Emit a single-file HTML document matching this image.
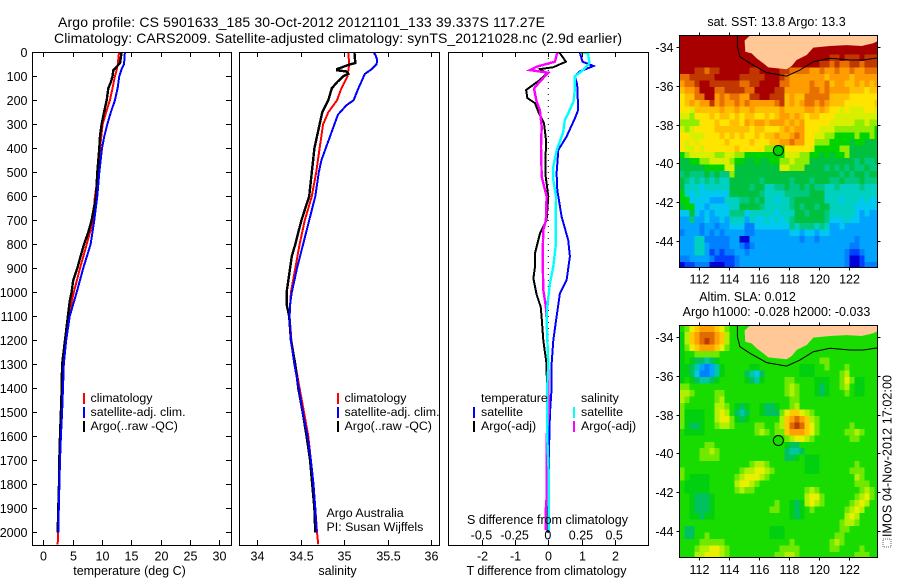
<!DOCTYPE html>
<html>
<head>
<meta charset="utf-8">
<title>Argo profile</title>
<style>
html,body{margin:0;padding:0;background:#fff;}
svg{display:block;}
text{font-family:"Liberation Sans",sans-serif;font-size:12.4px;fill:#000;}
.frame{fill:none;stroke:#000;stroke-width:1;shape-rendering:crispEdges;}
.ttl{font-size:14px;}
.lbl{font-size:12.5px;}
</style>
</head>
<body>
<svg id="chart" xmlns="http://www.w3.org/2000/svg" width="900" height="580" viewBox="0 0 900 580">
<rect x="0" y="0" width="900" height="580" fill="#fff"/>
<defs>
<clipPath id="clipT"><rect x="32" y="52" width="200" height="494"/></clipPath>
<clipPath id="clipS"><rect x="239" y="52" width="201" height="494"/></clipPath>
<clipPath id="clipD"><rect x="448" y="52" width="201" height="494"/></clipPath>
<clipPath id="clipM1"><rect x="679.5" y="35.5" width="198" height="232"/></clipPath>
<clipPath id="clipM2"><rect x="679.5" y="325.5" width="198" height="232"/></clipPath>
</defs>
<text class="ttl" x="58" y="27" textLength="487" lengthAdjust="spacing">Argo profile: CS 5901633_185 30-Oct-2012 20121101_133 39.337S 117.27E</text>
<text class="ttl" x="54" y="43" textLength="568" lengthAdjust="spacing">Climatology: CARS2009. Satellite-adjusted climatology: synTS_20121028.nc (2.9d earlier)</text>

<g id="mapLayer1" clip-path="url(#clipM1)"></g>
<g id="mapLayer2" clip-path="url(#clipM2)"></g>
<g id="lineT" clip-path="url(#clipT)"></g>
<g id="lineS" clip-path="url(#clipS)"></g>
<g id="lineD" clip-path="url(#clipD)"></g>
<g id="axes"></g>

<rect class="frame" x="32.5" y="52.5" width="199" height="493"/>
<rect class="frame" x="239.5" y="52.5" width="200" height="493"/>
<rect class="frame" x="448.5" y="52.5" width="200" height="493"/>
<rect class="frame" x="679.5" y="35.5" width="198" height="232"/>
<rect class="frame" x="679.5" y="325.5" width="198" height="232"/>

<text class="lbl" x="129.5" y="575" text-anchor="middle">temperature (deg C)</text>
<text class="lbl" x="337.5" y="575" text-anchor="middle">salinity</text>
<text class="lbl" x="546.5" y="575" text-anchor="middle">T difference from climatology</text>
<text class="lbl" x="547.5" y="524" text-anchor="middle">S difference from climatology</text>

<g>
<rect x="83" y="393" width="2" height="11" fill="#f00"/>
<rect x="83" y="407" width="2" height="11" fill="#00f"/>
<rect x="83" y="421" width="2" height="11" fill="#000"/>
<text x="90.5" y="402">climatology</text>
<text x="90.5" y="416">satellite-adj. clim.</text>
<text x="90.5" y="430">Argo(..raw -QC)</text>
</g>
<g>
<rect x="337" y="393" width="2" height="11" fill="#f00"/>
<rect x="337" y="407" width="2" height="11" fill="#00f"/>
<rect x="337" y="421" width="2" height="11" fill="#000"/>
<text x="344.5" y="402">climatology</text>
<text x="344.5" y="416">satellite-adj. clim.</text>
<text x="344.5" y="430">Argo(..raw -QC)</text>
<text x="326.5" y="517">Argo Australia</text>
<text x="326.5" y="531">PI: Susan Wijffels</text>
</g>
<g>
<text x="481" y="402">temperature</text>
<text x="481" y="416">satellite</text>
<text x="481" y="430">Argo(-adj)</text>
<rect x="473" y="407" width="2" height="11" fill="#00f"/>
<rect x="473" y="421" width="2" height="11" fill="#000"/>
<text x="581" y="402">salinity</text>
<text x="581" y="416">satellite</text>
<text x="581" y="430">Argo(-adj)</text>
<rect x="573" y="407" width="2" height="11" fill="#0ff"/>
<rect x="573" y="421" width="2" height="11" fill="#f0f"/>
</g>

<text class="lbl" x="776.5" y="26" text-anchor="middle">sat. SST: 13.8 Argo: 13.3</text>
<text class="lbl" x="747.5" y="301" text-anchor="middle">Altim. SLA: 0.012</text>
<text class="lbl" x="776.5" y="316" text-anchor="middle">Argo h1000: -0.028 h2000: -0.033</text>
<rect x="883" y="539" width="8" height="8" fill="none" stroke="#666" stroke-width="1" stroke-dasharray="1 1"/>
<text class="lbl" transform="translate(891.5,537) rotate(-90)" textLength="162" lengthAdjust="spacing">IMOS 04-Nov-2012 17:02:00</text>
</svg>

<script>
// ---------- profile data (depth in dbar, temperature in deg C, salinity in psu) ----------
const depthTicks = [0,100,200,300,400,500,600,700,800,900,1000,1100,1200,1300,1400,1500,1600,1700,1800,1900,2000];
const tempTicks = [0,5,10,15,20,25,30];
const salTicks = [34,34.5,35,35.5,36];
const salTickLabels = ["34","34.5","35","35.5","36"];
const tDiffTicks = [-2,-1,0,1,2];
const sDiffTicks = [-0.5,-0.25,0,0.25,0.5];
const sDiffTickLabels = ["-0.5","-0.25","0","0.25","0.5"];
const lonTicks = [112,114,116,118,120,122];
const latTicks = [-34,-36,-38,-40,-42,-44];

const tempClimDepth = [0,50,75,100,150,200,250,300,400,500,600,700,800,900,1000,1100,1200,1300,1400,1500,1600,1700,1800,1900,2000,2050];
const tempClim = [12.9,12.7,12.5,12.2,11.8,11.36,10.7,10.1,9.66,9.4,8.8,8.5,7.4,6.25,5.2,4.3,3.8,3.35,3.15,3,2.88,2.75,2.68,2.58,2.5,2.45];
const tempArgoDepth = [0,45,60,75,100,125,150,200,250,300,350,400,500,600,700,750,800,850,900,950,1000,1030,1100,1200,1300,1400,1500,1600,1700,1800,1900,2000];
const tempArgo = [13.35,13.07,12.5,11.93,11.8,11.5,11.08,10.8,10.34,9.94,9.66,9.55,9.2,9,8.24,7.67,6.93,6.36,5.8,5.1,4.83,4.55,4.2,3.7,3.2,3.13,3,2.85,2.73,2.68,2.56,2.45];
const tempSatDepth = [0,50,70,100,150,200,250,300,350,400,500,600,700,800,900,1000,1100,1200,1300,1400,1500,1600,1700,1800,1900,2000];
const tempSat = [13.9,13.75,13.35,12.95,12.67,12.2,11.5,10.9,10.4,10,9.55,9.2,8.7,8.07,6.8,5.7,4.5,3.9,3.5,3.35,3.2,3,2.85,2.75,2.65,2.55];

const salClimDepth = [0,50,100,150,200,250,300,400,500,600,700,800,900,1000,1100,1200,1300,1400,1500,1600,1700,1800,1900,2000,2050];
const salClim = [35.05,35.06,35.04,34.97,34.92,34.82,34.76,34.72,34.68,34.63,34.55,34.49,34.44,34.39,34.375,34.395,34.44,34.49,34.54,34.59,34.62,34.65,34.67,34.69,34.705];
const salArgoDepth = [0,45,50,70,75,80,90,100,125,150,200,250,300,350,400,500,600,700,800,850,900,1000,1050,1100,1200,1300,1400,1500,1600,1700,1800,1900,2000];
const salArgo = [35.12,35.13,35.07,34.92,34.92,35.03,35.05,34.99,34.92,34.86,34.82,34.75,34.72,34.69,34.66,34.63,34.6,34.51,34.44,34.4,34.38,34.34,34.34,34.37,34.39,34.44,34.475,34.525,34.57,34.61,34.635,34.66,34.67];
const salSatDepth = [0,10,30,50,70,90,150,200,220,260,300,350,400,450,500,600,700,800,900,1000,1050,1100,1200,1300,1400,1500,1600,1700,1800,1900,2000];
const salSat = [35.34,35.36,35.38,35.375,35.32,35.24,35.165,35.11,35.03,34.93,34.89,34.84,34.79,34.74,34.71,34.67,34.6,34.53,34.46,34.4,34.38,34.375,34.39,34.43,34.48,34.525,34.58,34.62,34.65,34.67,34.685];

const tDiffArgoDepth = [0,39,62,70,88,115,157,191,212,247,296,365,504,601,700,754,837,893,942,1011,1060,1108,1200,1300,1500,2000];
const tDiffArgo = [0.33,0.53,0.15,-0.25,-0.05,-0.25,-0.67,-0.63,-0.4,-0.3,-0.13,-0.07,-0.09,0,-0.05,-0.25,-0.4,-0.4,-0.45,-0.35,-0.23,-0.2,-0.15,-0.05,-0.03,-0.03];
const tDiffSatDepth = [0,39,57,80,100,136,240,275,351,407,504,574,685,782,851,949,1004,1101,1200,1300,1400,1500,1600,1700,2000];
const tDiffSat = [0.95,1.03,1.36,0.95,0.8,0.87,0.9,0.8,0.55,0.3,0.25,0.27,0.4,0.6,0.65,0.55,0.35,0.25,0.15,0.1,0.1,0.05,0.03,0.02,0.01];
const sDiffSatDepth = [0,5,46,76,100,157,205,254,282,337,407,476,532,601,810,893,962,1060,1115,1300,1400,1600,1750,1990];
const sDiffSat = [0.24,0.3,0.31,0.26,0.2,0.2,0.19,0.15,0.125,0.11,0.063,0.038,0.038,0.058,0.055,0.038,0.013,-0.008,-0.013,0,-0.008,-0.008,0.003,0.003];
const sDiffArgoDepth = [0,39,60,74,85,122,150,205,240,310,393,518,601,700,740,851,990,1060,1115,1300,1500,1600,1850,1900,1990];
const sDiffArgo = [0.068,0.05,-0.088,-0.138,0,-0.063,-0.108,-0.088,-0.063,-0.05,-0.055,-0.05,-0.013,-0.018,-0.038,-0.043,-0.038,-0.018,-0.013,0,0.003,-0.012,-0.012,-0.018,-0.018];

// ---------- map data ----------
const coastLon = [115.38,115.02,115.07,115.49,115.82,116.27,116.6,117.82,118.16,118.49,119.16,119.6,120.71,121.82,122.82,123.6,123.95,123.95];
const coastLat = [-33.4,-33.67,-34.24,-34.33,-34.58,-34.84,-35.05,-35.15,-34.98,-34.67,-34.41,-34.03,-33.95,-33.9,-33.95,-33.81,-33.67,-33.3];
const isobathLon = [114.54,114.54,114.71,115.38,116.49,117.82,118.71,119.6,120.71,122.05,122.93,123.95];
const isobathLat = [-33.3,-33.98,-34.5,-34.84,-35.32,-35.5,-35.19,-34.76,-34.58,-34.67,-34.67,-34.55];
const argoLon = 117.27;
const argoLat = -39.337;

const sstColors = ["#000090","#0000d8","#0040ff","#0080ff","#00a4ff","#00c8f0","#00d0c0","#00c880","#00c040","#00d400","#90ec00","#d8f000","#ffe400","#ffc000","#ff9c00","#e87000","#c03800","#a80000"];
const slaColors = ["#000090","#0000d8","#0040ff","#0080ff","#00a4ff","#00c8f0","#00c8a0","#00c060","#00d010","#18dc00","#70e800","#b0f000","#e8f000","#ffc800","#ffa000","#e06c00","#bc3c00","#a00000"];

// SST colour-level grid, 36 rows of 40 cells
const sstGrid = [
[17,17,17,17,17,17,17,17,17,17,17,17,17,17,17,17,17,17,17,17,17,17,17,17,17,17,17,17,17,17,17,17,17,17,17,17,17,17,17,17],
[17,17,17,17,17,17,17,17,17,17,17,17,17,17,17,17,17,17,17,17,17,17,17,17,17,17,17,17,17,17,17,17,17,17,17,17,17,17,17,17],
[17,17,17,17,17,17,17,17,17,17,17,17,17,17,17,17,17,17,17,17,17,17,17,17,17,17,17,17,17,17,17,17,17,17,17,17,17,17,17,17],
[17,17,17,17,17,17,17,17,17,17,17,17,17,17,17,17,17,17,17,17,17,17,17,17,17,17,17,17,17,17,16,16,17,16,16,16,17,16,16,16],
[17,17,17,17,17,17,17,17,17,17,17,17,17,17,17,17,17,17,17,17,17,17,17,17,17,17,17,17,16,16,15,16,15,15,16,16,15,16,16,16],
[17,17,17,16,16,15,16,16,17,17,17,17,17,17,16,16,17,17,17,17,16,16,15,15,15,15,14,14,15,14,14,15,14,14,15,14,14,15,15,15],
[15,15,16,16,16,16,16,17,17,17,17,17,16,16,16,16,16,17,17,17,16,15,14,14,14,14,14,14,14,13,14,14,14,14,13,14,14,14,14,14],
[14,15,15,16,17,17,16,16,16,16,16,16,15,15,16,16,17,17,17,17,15,15,14,14,14,14,15,14,14,15,13,14,14,13,13,14,13,14,13,14],
[13,14,14,15,17,17,17,15,15,16,16,16,16,15,15,17,17,17,17,16,16,14,14,14,14,14,15,15,14,15,14,14,14,14,13,13,13,12,13,13],
[12,13,13,15,15,17,17,14,15,14,15,15,14,14,16,16,17,17,16,16,16,13,14,13,13,15,15,15,15,15,13,13,13,13,12,12,12,12,12,12],
[12,13,14,13,14,14,16,14,15,14,14,15,14,15,14,14,14,14,14,15,16,13,14,13,14,15,15,14,15,14,13,13,13,12,12,12,12,12,12,13],
[12,12,11,13,13,13,13,13,14,13,13,14,13,13,14,13,13,13,13,13,14,13,13,13,13,14,14,13,14,13,12,12,11,12,11,11,11,12,12,11],
[11,11,10,12,12,12,13,12,13,13,12,13,12,13,13,12,12,13,12,13,14,14,13,14,13,12,13,13,12,12,12,11,11,11,11,11,11,11,11,11],
[10,10,10,10,12,12,12,13,12,12,13,13,12,14,13,14,14,13,14,14,14,13,14,13,14,12,12,12,12,12,11,11,11,11,11,10,10,11,10,10],
[11,10,11,12,12,12,12,13,13,13,13,13,13,13,12,13,13,12,12,12,13,14,13,14,14,12,12,12,11,11,11,10,10,10,10,10,10,10,10,9],
[12,12,11,11,11,12,12,12,13,12,13,12,13,12,12,13,12,13,13,14,13,13,14,15,14,12,12,11,11,10,10,9,9,9,9,10,9,9,10,9],
[12,11,12,11,12,12,12,12,12,13,12,12,12,12,13,12,12,12,13,13,14,14,15,14,14,12,12,10,10,10,9,9,9,9,8,9,9,8,8,8],
[12,11,11,12,11,12,12,12,12,12,12,13,12,12,12,12,12,10,10,9,9,12,12,12,12,12,11,9,9,9,9,9,10,10,8,8,8,8,8,8],
[9,10,11,11,11,11,11,10,10,11,11,10,10,9,9,9,9,9,9,9,9,11,11,11,10,10,9,9,8,9,8,9,9,10,8,8,8,8,8,8],
[8,8,9,9,10,10,11,11,11,11,10,9,9,8,8,9,8,8,9,9,10,10,11,10,10,10,8,8,8,8,8,8,8,8,8,7,8,7,7,8],
[8,8,8,8,8,9,9,9,9,11,11,8,8,8,8,8,8,8,8,8,11,11,10,10,10,8,8,8,8,7,8,7,8,7,8,7,7,8,7,7],
[7,8,7,7,7,8,7,8,7,7,10,8,8,8,8,8,8,8,8,8,8,8,8,8,8,8,8,8,8,8,8,8,7,8,7,8,8,7,8,8],
[8,7,6,7,6,7,6,7,6,6,8,8,8,8,8,8,7,8,8,8,8,8,7,8,8,8,7,8,8,8,7,7,8,7,7,7,8,7,7,7],
[8,6,6,6,5,6,6,6,6,6,8,8,8,8,7,8,8,6,6,7,7,8,7,7,8,7,8,7,7,6,6,7,6,6,6,6,7,6,6,6],
[9,6,5,6,5,5,5,5,5,5,8,8,8,8,8,8,7,6,6,6,6,7,7,7,7,7,8,8,8,6,6,6,6,6,6,6,6,6,6,6],
[9,9,5,5,5,5,4,4,4,6,6,6,7,7,8,7,8,6,6,5,6,6,7,8,8,8,8,8,8,6,6,6,5,6,6,6,5,6,5,5],
[8,9,9,5,5,4,5,5,5,5,6,6,8,8,8,8,7,6,6,6,6,6,7,8,7,8,8,7,8,8,6,6,6,6,6,5,5,5,5,5],
[5,5,8,5,4,5,4,5,5,5,7,7,7,5,6,6,6,6,6,5,6,6,6,8,8,7,8,8,8,7,6,6,6,6,6,5,4,5,4,4],
[4,4,7,4,4,5,4,4,5,4,6,6,6,4,6,5,5,6,5,6,5,6,7,8,8,8,8,8,8,7,5,5,5,6,5,5,4,4,4,4],
[4,4,4,4,3,4,4,3,4,4,5,5,5,3,3,5,5,5,5,5,5,5,7,6,7,7,7,6,7,6,4,4,5,4,4,4,4,4,4,4],
[3,4,4,4,3,4,3,4,3,4,4,4,4,3,3,4,4,4,4,4,4,4,5,5,4,5,5,4,5,5,4,4,4,4,4,4,4,4,4,4],
[4,4,4,6,6,3,3,3,3,3,4,4,1,1,4,4,4,4,4,4,4,4,4,4,3,4,4,3,4,4,4,4,4,4,4,3,4,4,4,4],
[4,4,4,6,6,4,3,3,3,3,4,4,3,2,3,4,4,4,4,4,4,4,4,4,4,4,4,4,4,4,4,4,4,4,3,3,4,4,4,4],
[4,4,4,6,6,4,2,3,2,3,3,4,4,3,4,4,4,4,4,4,4,4,4,4,4,4,4,4,4,4,4,4,4,3,2,2,3,4,4,4],
[3,3,4,4,4,4,3,2,2,2,2,3,4,4,4,4,4,4,4,4,4,4,4,4,4,4,4,4,4,4,4,4,4,3,1,1,2,4,4,4],
[1,2,2,3,3,3,1,1,1,2,2,3,4,4,4,4,4,4,4,4,4,4,4,4,4,4,4,4,4,4,4,4,4,3,1,1,2,3,3,3]
];

// Sea-level-anomaly colour-level grid, 36 rows of 40 cells
const slaGrid = [
[9,10,12,13,14,14,14,13,12,10,9,9,9,9,9,9,9,9,9,9,9,9,9,9,9,9,9,9,9,9,9,9,9,9,9,9,9,9,9,9],
[8,11,13,14,15,15,15,14,13,11,9,9,9,9,9,9,9,9,9,9,9,9,9,9,9,9,9,9,9,9,9,9,9,9,9,9,9,9,9,9],
[8,11,13,14,15,16,15,14,13,11,9,9,9,9,9,9,9,9,9,9,9,9,9,9,9,9,9,9,9,9,9,9,9,9,9,9,9,9,9,9],
[8,10,12,13,14,14,14,13,12,10,9,9,9,9,9,9,9,9,9,9,9,9,9,9,9,9,9,9,9,9,9,9,9,9,9,9,9,9,9,9],
[8,9,9,10,10,10,10,10,9,9,9,9,9,9,9,9,9,9,9,9,9,9,9,9,9,9,9,9,9,9,9,9,9,9,9,9,9,9,9,9],
[8,9,8,7,7,6,7,8,9,9,9,9,9,9,9,9,9,9,9,9,9,9,9,9,9,9,9,9,10,10,9,9,9,9,9,9,9,9,9,9],
[8,8,7,6,4,3,4,6,8,9,9,9,9,9,8,8,9,9,9,9,9,9,9,9,8,8,8,9,9,10,9,9,9,10,9,9,9,9,9,9],
[8,8,7,5,3,3,4,6,8,9,9,9,9,7,6,5,7,9,9,9,9,9,9,9,8,8,8,9,9,9,9,9,10,11,9,9,9,9,9,9],
[8,9,8,7,6,6,7,8,9,9,9,9,9,8,7,6,8,9,9,9,9,10,10,9,9,9,9,8,8,8,9,9,10,12,10,8,8,9,9,9],
[10,10,9,9,9,9,9,9,9,9,9,9,9,9,9,9,9,9,9,9,9,10,11,10,9,9,9,8,7,8,9,9,10,11,9,8,8,9,9,9],
[11,11,10,9,9,9,9,10,10,9,9,9,9,9,9,9,9,9,9,9,9,10,11,10,9,9,9,8,7,8,9,9,9,10,9,8,8,9,9,9],
[11,10,9,9,9,9,9,10,11,9,9,9,9,9,9,9,9,9,9,9,9,9,10,10,9,9,9,9,9,9,9,9,9,9,9,9,9,9,9,9],
[10,9,9,9,9,9,9,11,11,10,9,8,7,8,9,9,8,7,7,8,9,9,10,11,9,9,9,9,9,9,9,9,9,9,9,9,9,9,9,9],
[10,8,8,8,8,9,9,11,12,11,9,7,6,7,9,9,8,7,7,7,10,12,13,13,12,11,10,9,9,9,9,9,9,9,9,9,9,9,9,9],
[10,8,8,8,8,9,9,11,12,12,10,8,7,8,9,9,9,9,9,9,11,13,14,15,14,13,11,10,9,9,9,9,9,9,9,9,9,9,9,9],
[10,8,7,7,8,9,9,10,11,11,10,9,9,9,9,10,10,9,9,10,11,13,15,16,15,13,12,10,9,9,9,9,9,9,10,9,9,9,9,9],
[9,8,8,8,8,9,9,9,9,9,9,9,9,9,9,10,11,10,9,10,10,13,14,14,14,13,12,10,9,9,9,9,9,10,10,11,10,9,9,9],
[9,9,9,9,9,9,9,9,9,9,9,9,9,9,9,9,9,9,9,9,9,10,11,12,12,11,10,9,9,9,9,9,9,9,10,10,9,9,9,9],
[9,9,9,9,9,10,10,9,9,9,9,9,9,9,9,9,9,9,9,9,9,8,7,7,9,9,9,9,9,9,9,9,9,9,9,9,9,9,9,9],
[9,9,9,9,10,10,11,10,9,9,9,9,9,9,9,9,9,9,9,9,9,7,6,6,7,9,9,9,9,9,9,9,9,9,9,9,9,9,9,9],
[9,9,9,9,10,10,10,10,9,9,9,9,9,9,9,9,9,9,9,9,9,7,7,8,9,8,8,8,9,9,9,9,9,9,9,9,9,9,9,9],
[9,9,9,9,9,9,9,9,9,9,9,9,9,9,10,11,11,10,9,9,9,9,9,9,9,8,8,8,9,9,9,9,9,9,9,10,9,9,9,9],
[10,9,9,9,9,9,9,9,9,9,9,9,10,11,11,12,12,11,10,9,9,9,9,9,9,8,8,8,9,9,9,9,9,9,10,10,10,9,9,9],
[10,9,8,8,8,8,9,9,9,9,9,10,11,12,12,12,11,10,9,9,9,9,9,9,9,9,9,9,9,9,9,9,9,9,9,11,10,9,9,9],
[9,8,8,8,8,8,9,9,9,9,9,11,12,12,11,10,9,9,9,9,9,9,9,9,9,9,9,9,9,9,9,9,9,9,9,10,10,10,9,9],
[9,8,8,8,8,8,9,9,9,9,9,10,11,10,10,9,9,9,9,9,9,9,9,9,9,10,11,10,9,9,9,9,9,9,9,9,10,11,10,9],
[9,9,8,7,7,7,8,9,9,9,9,9,9,9,9,9,9,9,9,9,9,9,9,9,9,11,12,12,10,9,9,9,9,9,9,10,11,12,10,9],
[9,9,8,7,7,7,8,9,9,9,9,9,9,9,9,9,9,9,9,10,9,9,8,7,8,11,12,11,10,9,9,9,9,9,10,11,12,11,9,9],
[9,9,8,7,7,7,8,9,9,9,9,9,9,9,9,9,9,9,10,10,9,9,8,7,8,9,10,9,9,9,9,9,9,10,11,12,11,9,9,9],
[9,9,8,8,7,8,8,9,9,9,9,9,9,9,9,9,9,9,9,9,9,9,8,7,8,9,9,9,9,9,9,9,9,11,12,11,9,9,9,9],
[9,9,9,9,9,9,9,9,9,9,9,9,9,9,9,9,9,9,9,9,9,9,9,9,9,9,9,9,9,9,9,9,10,11,11,10,9,9,9,9],
[9,7,7,9,9,9,9,9,9,9,9,9,9,9,9,9,9,9,8,8,8,9,9,9,9,9,9,9,9,9,9,9,10,10,9,9,9,9,9,9],
[9,7,7,9,9,10,9,9,9,9,9,9,9,9,9,9,9,9,8,8,8,9,9,9,9,9,9,9,9,9,9,10,10,9,9,9,9,9,9,9],
[9,9,9,9,10,10,10,10,10,9,9,9,9,9,9,9,9,9,9,9,9,9,10,9,9,9,9,9,9,9,10,11,10,9,9,9,9,9,9,9],
[9,9,9,10,11,11,12,12,11,10,9,9,9,9,9,9,9,9,9,9,10,10,10,10,9,9,9,9,9,9,10,10,9,9,9,9,10,9,9,9],
[9,9,9,11,11,12,12,12,11,10,9,9,9,9,9,9,9,9,9,10,10,11,11,10,9,9,9,9,9,9,9,9,9,9,9,10,10,10,9,9]
];

// ---------- axis functions ----------
function yDepth(d){return 52.3+d*0.24;}
function xTemp(t){return 43.3+t*5.867;}
function xSal(s){return 257+(s-34)*87;}
function xTDiff(t){return 548.3+t*33.2;}
function xSDiff(s){return 548.3+s*132.7;}
function lonX(lon){return 699.3+(lon-112)*15;}
function latY1(lat){return 47-(lat+34)*19.4;}
function latY2(lat){return 337-(lat+34)*19.4;}

const NS="http://www.w3.org/2000/svg";
function el(parent,tag){const e=document.createElementNS(NS,tag);parent.appendChild(e);return e;}

function drawProfile(parent,depths,vals,xf,color,width,name){
  const p=el(parent,'polyline');
  
  
  p.setAttribute('points',depths.map((d,i)=>xf(vals[i]).toFixed(1)+','+yDepth(d).toFixed(1)).join(' '));
  p.setAttribute('fill','none');
  p.setAttribute('stroke',color);
  p.setAttribute('stroke-width',width);
  p.setAttribute('shape-rendering','crispEdges');
}

function tick(x1,y1,x2,y2,name){
  const l=el(axes,'line');
  
  
  l.setAttribute('x1',x1);l.setAttribute('y1',y1);l.setAttribute('x2',x2);l.setAttribute('y2',y2);
  l.setAttribute('stroke','#000');
  l.setAttribute('shape-rendering','crispEdges');
}
function label(x,y,str,anchor,name){
  const t=el(axes,'text');
  
  
  t.setAttribute('x',x);t.setAttribute('y',y);
  t.setAttribute('text-anchor',anchor);
  t.setAttribute('class','lbl');
  t.textContent=str;
}

const axes=document.getElementById('axes');
const lineT=document.getElementById('lineT');
const lineS=document.getElementById('lineS');
const lineD=document.getElementById('lineD');

// profiles
drawProfile(lineT,tempClimDepth,tempClim,xTemp,'#f00',2,'temperature-climatology-line');
drawProfile(lineT,tempArgoDepth,tempArgo,xTemp,'#000',2.4,'temperature-argo-line');
drawProfile(lineT,tempSatDepth,tempSat,xTemp,'#00f',2,'temperature-satellite-line');
drawProfile(lineS,salClimDepth,salClim,xSal,'#f00',2,'salinity-climatology-line');
drawProfile(lineS,salArgoDepth,salArgo,xSal,'#000',2.4,'salinity-argo-line');
drawProfile(lineS,salSatDepth,salSat,xSal,'#00f',2,'salinity-satellite-line');

const zero=el(lineD,'line');


zero.setAttribute('x1',xTDiff(0));zero.setAttribute('x2',xTDiff(0));
zero.setAttribute('y1',52);zero.setAttribute('y2',545);
zero.setAttribute('stroke','#000');zero.setAttribute('stroke-dasharray','1 5');

drawProfile(lineD,tDiffArgoDepth,tDiffArgo,xTDiff,'#000',2,'t-difference-argo-line');
drawProfile(lineD,tDiffSatDepth,tDiffSat,xTDiff,'#00f',2,'t-difference-satellite-line');
drawProfile(lineD,sDiffArgoDepth,sDiffArgo,xSDiff,'#f0f',2.4,'s-difference-argo-line');
drawProfile(lineD,sDiffSatDepth,sDiffSat,xSDiff,'#0ff',2.4,'s-difference-satellite-line');

// profile axes
depthTicks.forEach(function(d){
  const y=Math.round(yDepth(d))+0.5;
  tick(32,y,37,y,'depth-tick');
  tick(226,y,231,y,'depth-tick');
  label(27.5,y+4.5,String(d),'end','depth-tick-label');
});
tempTicks.forEach(function(t){
  const x=Math.round(xTemp(t))+0.5;
  tick(x,52,x,57,'temperature-tick');
  tick(x,540,x,545,'temperature-tick');
  label(x,560.5,String(t),'middle','temperature-tick-label');
});
salTicks.forEach(function(s,i){
  const x=Math.round(xSal(s))+0.5;
  tick(x,52,x,57,'salinity-tick');
  tick(x,540,x,545,'salinity-tick');
  label(x,560.5,salTickLabels[i],'middle','salinity-tick-label');
});
tDiffTicks.forEach(function(t){
  const x=Math.round(xTDiff(t))+0.5;
  tick(x,52,x,57,'t-difference-tick');
  tick(x,540,x,545,'t-difference-tick');
  label(x,560.5,String(t),'middle','t-difference-tick-label');
});
sDiffTicks.forEach(function(s,i){
  label(xSDiff(s)-0.5,539.5,sDiffTickLabels[i],'middle','s-difference-tick-label');
});

// maps
function drawMap(layer,grid,colors,latY,top,name){
  grid.forEach(function(row,r){
    row.forEach(function(v,c){
      const q=el(layer,'rect');
      
      
      q.setAttribute('x',(679.3+c*5).toFixed(1));
      q.setAttribute('y',(top+r*6.47).toFixed(2));
      q.setAttribute('width',5.3);
      q.setAttribute('height',6.8);
      q.setAttribute('fill',colors[v]);
      q.setAttribute('shape-rendering','crispEdges');
    });
  });
  const land=el(layer,'polygon');
  
  
  land.setAttribute('points',coastLon.map((lo,i)=>lonX(lo).toFixed(1)+','+latY(coastLat[i]).toFixed(1)).join(' '));
  land.setAttribute('fill','#ffc896');
  land.setAttribute('stroke','none');
  const iso=el(layer,'polyline');
  
  
  iso.setAttribute('points',isobathLon.map((lo,i)=>lonX(lo).toFixed(1)+','+latY(isobathLat[i]).toFixed(1)).join(' '));
  iso.setAttribute('fill','none');
  iso.setAttribute('stroke','#000');
  iso.setAttribute('stroke-width',1);
  const dot=el(layer,'circle');
  
  
  dot.setAttribute('cx',lonX(argoLon));
  dot.setAttribute('cy',latY(argoLat));
  dot.setAttribute('r',5);
  dot.setAttribute('fill',colors[9]);
  dot.setAttribute('stroke','#000');
  dot.setAttribute('stroke-width',1);
}
drawMap(document.getElementById('mapLayer1'),sstGrid,sstColors,latY1,35.3,'sst-map');
drawMap(document.getElementById('mapLayer2'),slaGrid,slaColors,latY2,325.3,'sla-map');

function mapAxes(latY,top,bottom,labelY){
  lonTicks.forEach(function(lo){
    const x=Math.round(lonX(lo))+0.5;
    tick(x,top-3,x,top,'longitude-tick');
    tick(x,bottom,x,bottom+3,'longitude-tick');
    label(x,labelY,String(lo),'middle','longitude-tick-label');
  });
  latTicks.forEach(function(la){
    const y=Math.round(latY(la))+0.5;
    tick(676.5,y,679.5,y,'latitude-tick');
    tick(877.5,y,880.5,y,'latitude-tick');
    label(673.5,y+4.5,String(la),'end','latitude-tick-label');
  });
}
mapAxes(latY1,35.5,267.5,283.5);
mapAxes(latY2,325.5,557.5,574);
</script>
</body>
</html>
